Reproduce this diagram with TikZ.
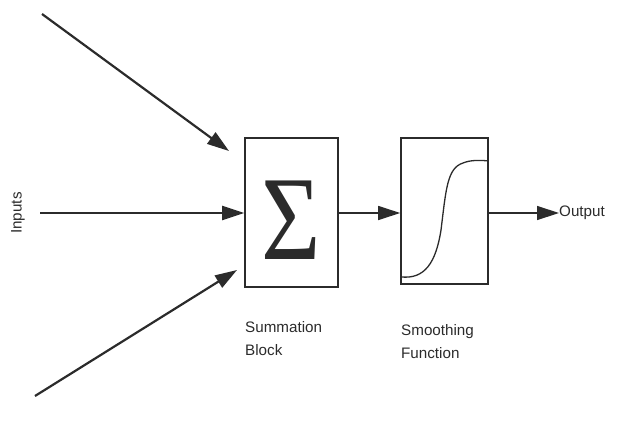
\documentclass[tikz,border=0pt]{standalone}
\usepackage{fontspec}
\setmainfont{Liberation Sans}
\newfontfamily\sigmafont{Liberation Serif}
\usepackage{xcolor}
\usetikzlibrary{positioning, arrows.meta, calc}
\definecolor{nnink}{HTML}{2B2B2B}

\begin{document}
\begin{tikzpicture}[
  x=1pt, y=-1pt,
  block/.style={draw=nnink, line width=1.6pt, minimum width=93pt, minimum height=149pt, inner sep=0pt},
  lbl/.style={font=\fontsize{15.2}{23}\selectfont, text=nnink, align=left, anchor=north west, inner sep=0pt},
  arr/.style={-{Triangle[length=22pt, width=14pt]}, line width=1.3pt, nnink},
  inarr/.style={-{Triangle[length=22pt, width=14pt]}, line width=2.2pt, nnink}
]
  \useasboundingbox (0,0) rectangle (626,423);
  \node[block, text=nnink, font=\sigmafont\fontsize{120}{120}\selectfont] (sum) at (291.5,212.5) {\raisebox{-8pt}[\height][\depth]{\scalebox{0.85}[1]{Σ}}};
  \node[block, minimum width=87pt, minimum height=146pt] (smooth) at (444.5,211) {};
  % sigmoid inside the smoothing block
  \draw[nnink, line width=1.3pt] (smooth.south west) ++(0,-8)
    .. controls (425,280) and (436,262) .. (441,230)
    .. controls (446,190) and (447,168) .. (463,163)
    .. controls (470,160) and (480,160) .. (smooth.east |- 0,161);

  \coordinate (top) at (42,14);
  \coordinate (topend) at (229,151);
  \coordinate (mid) at (40,213);
  \coordinate (bot) at (35,396);
  \coordinate (botend) at (237,270);

  \node[rotate=90, font=\fontsize{15.2}{17}\selectfont, text=nnink] (inputs) at (18,213) {Inputs};
  \node[font=\fontsize{15.2}{17}\selectfont, text=nnink, anchor=west, inner sep=0pt] (out) at (559,213) {Output};
  \node[lbl] (sumlbl) at (245,321) {Summation\\Block};
  \node[lbl] (smoothlbl) at (401,324) {Smoothing\\Function};

  \draw[inarr] (top) -- (topend);
  \draw[inarr] (mid) -- (sum.west |- mid);
  \draw[inarr] (bot) -- (botend);
  \draw[arr] (sum.east |- mid) -- (smooth.west |- mid);
  \draw[arr] (smooth.east |- mid) -- (out.west);
\end{tikzpicture}
\end{document}
